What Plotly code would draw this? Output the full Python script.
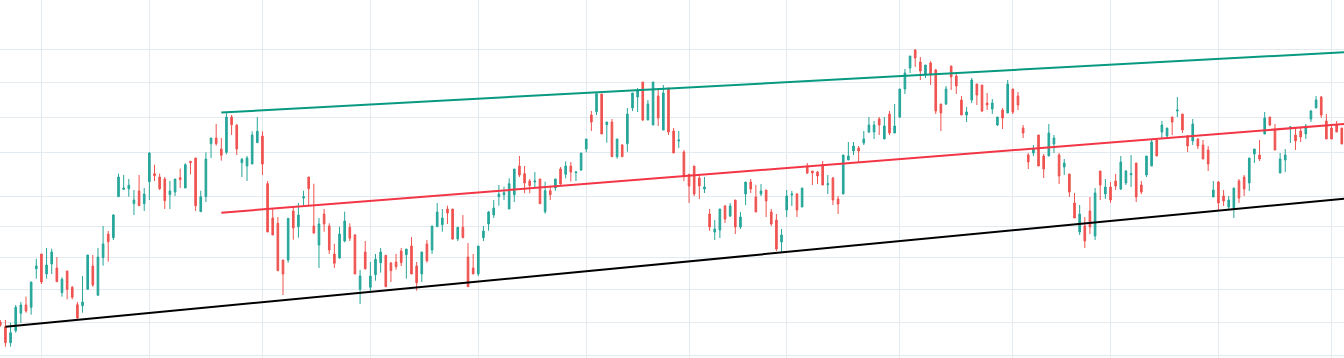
import plotly.graph_objects as go

opens = [36, 31.3, 15.3, 27.3, 44.7, 53, 50.7, 89.3, 104, 84, 94, 90, 65.3, 87, 70.7, 53.3, 52.3, 68.7, 92, 62.7,
         100.3, 124, 120.3, 161.3, 168.7, 169.3, 154.3, 167, 154.3, 176.3, 184.3, 181, 179, 163.3, 166, 180.3, 170, 196.7, 200, 146.3,
         161.3, 214.3, 220, 209, 205.7, 241, 232.7, 195.3, 192, 194, 215.3, 222, 174.3, 140, 134.7, 98, 98, 147, 131.3, 160,
         181, 132, 113, 144, 132, 104, 100, 117, 130.7, 123, 68.7, 106, 70.7, 83.3, 95.3, 102.7, 95, 96, 107, 103.3,
         112, 92, 84, 114, 108, 131.3, 133.3, 149, 149, 119, 130.7, 101, 90, 84, 120.3, 134, 143, 161.3, 163.3, 149,
         163.3, 192, 184.3, 177, 176, 179, 146.3, 167.3, 170, 189, 183.7, 192, 185.3, 188, 209, 243, 246.3, 264, 233.3, 236,
         201.3, 213, 214.3, 250, 261, 276, 238, 233, 262, 228, 270, 227, 217, 206, 183.7, 192, 180, 169, 144, 126,
         128, 152, 142, 158, 131, 164, 176, 161, 164, 168, 146, 138, 116, 148, 163, 164, 151, 192, 187, 186,
         193, 173.3, 180, 159, 164, 198, 207, 210, 215, 226, 226, 239, 219, 244, 225, 241, 269, 290, 308, 296,
         283, 295, 288, 254, 254, 292, 282, 258, 243, 258, 274, 273, 255, 249, 233, 248, 245, 269, 262, 230,
         203, 205, 223, 202, 202, 214, 203, 191, 184, 155, 126, 132, 147, 122, 187, 164, 171, 177, 169, 175,
         183.3, 195, 173, 183, 192, 218, 226, 222, 241, 247, 244, 221, 217, 219, 213, 208, 161, 176, 162, 151,
         149, 177, 181, 175, 204, 203, 224, 241, 228, 185, 198, 230, 223, 227, 224, 239, 250, 261, 237, 230,
         233, 230]
highs = [38, 38, 35.3, 53, 56, 61.3, 76, 99.3, 104, 110, 109.3, 101, 80.7, 87, 72, 56, 82, 103, 103, 110,
         132, 127, 144, 184.3, 183, 179, 168, 183, 170, 205.7, 193.3, 184.3, 181, 177, 179, 189.3, 194.7, 196.7, 200, 167.3,
         205.7, 220, 234, 220, 246.3, 243, 234, 200, 202, 226.7, 241, 226.7, 177, 149, 141, 98, 139.7, 151, 155, 167.3,
         181, 174.3, 140, 149, 134.7, 114.3, 131.3, 146.3, 134.7, 124, 88, 117, 96, 104, 110, 102.7, 96, 104, 110, 109,
         121, 96, 106, 118, 132, 155, 149, 152.3, 149, 130.7, 143, 115, 104, 112, 132, 147, 158, 173, 171.3, 179.7,
         189, 202, 192, 179, 186, 179, 176.3, 172.3, 179, 191, 196.7, 196, 186.7, 205, 219, 247, 264.3, 264, 236, 239,
         219, 214, 250, 265, 270, 276, 258, 276, 269, 273, 270, 230, 227, 208, 183.7, 192, 184, 181, 149, 138,
         149, 153, 155, 158, 146, 176, 179, 173, 174, 168, 149, 144, 129, 168, 167, 165, 170, 195, 187, 187,
         197, 183, 181, 162, 203, 216, 216, 212, 227, 241, 237, 241, 241, 247, 254, 269, 289, 302, 309, 301,
         293, 297, 289, 254, 272, 292, 286, 262, 251, 280, 274, 273, 265, 259, 241, 250, 278, 269, 266, 233,
         205, 213, 223, 204, 234, 223, 205, 199, 184, 165, 153, 141, 161, 170, 187, 179, 176, 184, 202, 188,
         203, 195, 177, 202, 218, 218, 237, 230, 241, 261, 244, 223, 239, 220, 218, 212, 177, 177, 168, 162,
         170, 179, 183, 200, 209, 218, 246, 241, 234, 205, 209, 232, 231, 230, 234, 248, 262, 262, 244, 232,
         237, 230]
lows = [31.3, 11.3, 11.3, 25.3, 35.3, 45.3, 43.3, 79.3, 74, 79.3, 84, 76.3, 61.3, 58.7, 58.7, 38, 45.3, 68.7, 71.3, 62.7,
        92.3, 96.3, 118, 161.3, 168, 161.3, 143, 152.3, 147, 158, 177, 168, 149, 149, 162, 170, 170, 183.7, 147, 146.3,
        156, 200, 212.3, 197.3, 203.7, 223, 203, 181, 177, 194, 215.3, 183, 126, 123, 87.3, 63, 95.3, 118.3, 120.3, 152.7,
        152.7, 124.3, 90, 126.3, 104, 90, 99.3, 115.7, 117, 84, 54, 88.3, 65.3, 77.3, 85.3, 71.3, 76, 88.3, 92, 79.3,
        84, 67.3, 76, 95.3, 104, 131.3, 126.3, 134, 118.3, 117, 120.3, 71.3, 84, 82, 117, 127.3, 140, 152.3, 158, 149,
        156, 181, 164.7, 164.7, 170.7, 154.3, 144.3, 158, 167.3, 173, 179.7, 176.3, 177, 187, 205.7, 227, 243, 224, 215.3, 201.3,
        199.3, 201.3, 206.3, 247, 246, 237, 238, 233, 232, 228, 223, 205, 210, 177, 155, 162, 159, 165, 127, 118,
        120, 135, 141, 124, 129, 153, 165, 146, 162, 141, 132, 107, 106, 141, 152, 141, 151, 184, 173, 174,
        173, 164, 153, 144, 164, 198, 203, 196, 213, 225, 219, 223, 219, 223, 225, 240, 264, 285, 291, 278,
        280, 273, 244, 227, 253, 268, 264, 243, 236, 255, 253, 246, 248, 244, 232, 229, 245, 244, 248, 220,
        189, 202, 192, 180, 202, 205, 174, 183, 161, 140, 123, 110, 124, 118, 158, 159, 155, 168, 168, 173,
        171, 156, 164, 181, 192, 202, 219, 220, 223, 241, 225, 206, 213, 209, 199, 187, 161, 147, 152, 148,
        140, 155, 162, 167, 195, 197, 224, 232, 208, 185, 186, 215, 208, 216, 219, 236, 250, 240, 219, 219,
        226, 214]
closes = [32.7, 15.3, 25.3, 50.7, 53, 47, 76, 92, 76, 93, 106, 76.3, 78.7, 68.7, 60.7, 40, 56, 103, 73, 101,
          114, 116.3, 143, 181, 170, 172.7, 158, 152.3, 164, 205, 182.3, 169.3, 157.3, 167, 179, 178.3, 193.3, 195.3, 152.3, 161.3,
          199, 220, 214.3, 202.7, 241, 233.3, 209, 198.7, 200, 223, 226.7, 194, 126, 123, 87.3, 84, 139.7, 130, 143, 161.3,
          169.3, 125, 134, 134, 108, 94.7, 124, 137, 119.7, 84, 82, 89.3, 82, 98.7, 106, 71.3, 87.3, 91.3, 95.3, 109,
          84, 75.3, 106, 97.3, 132, 146, 140, 145, 119, 130.7, 120.3, 71.3, 84, 112, 127, 146, 150, 164, 165.3, 174.3,
          189, 183, 175, 172.3, 177, 154.3, 167.3, 163.3, 179, 174, 192, 186, 186, 205, 219, 236, 264.3, 224, 236, 201.3,
          219, 201.3, 244, 265, 267, 238, 254, 276, 240, 265, 226, 205, 218, 181.7, 172, 164, 172, 171, 131, 129,
          149, 139, 152, 131, 141, 176, 169, 146, 167, 157, 134, 109, 123, 162, 164, 148, 170, 185, 185, 182,
          173, 174.3, 158, 154, 203, 202, 212, 207, 219, 233, 233, 233, 232, 225, 232, 269, 285, 302, 300, 287,
          293, 283, 247, 245, 269, 281, 272, 243, 246, 278, 263, 247, 253, 255, 241, 240, 274, 246, 253, 225,
          196, 209, 192, 189, 225, 220, 182, 195, 166, 140, 144, 117, 131, 165, 173, 171, 158, 172, 196, 187,
          184.3, 161, 166, 202, 216, 202, 233, 230, 236, 248, 228, 212, 234, 212, 199, 194, 168, 155, 157, 158,
          170, 160, 169, 200, 209, 199, 240, 233, 208, 199, 203, 231, 217, 221, 232, 247, 258, 243, 219, 219,
          226, 214]

# first trading session of each month (candle index) -> vertical grid lines
month_start_idx = [8, 29, 51, 72, 93, 114, 134, 153, 175, 197, 216, 237, 259]
# horizontal price grid levels
price_grid = [2.3, 35.7, 68.7, 100.7, 131.3, 161.3, 205.7, 240.7, 275.7, 308.7]

# trend lines: [start_idx, end_idx], [start_price, end_price]
upper_x = [43, 262]
upper_y = [245.5, 305.9]
mid_x = [43, 262]
mid_y = [145.3, 234.2]
lower_x = [1, 262]
lower_y = [31.3, 159.6]

x = list(range(len(opens)))

fig = go.Figure()
fig.add_trace(go.Candlestick(
    x=x, open=opens, high=highs, low=lows, close=closes,
    increasing=dict(line=dict(color="#26a69a", width=1), fillcolor="#26a69a"),
    decreasing=dict(line=dict(color="#ef5350", width=1), fillcolor="#ef5350"),
    hoverinfo="skip", showlegend=False,
))
fig.add_trace(go.Scatter(x=lower_x, y=lower_y, mode="lines",
                         line=dict(color="#000000", width=2), showlegend=False, hoverinfo="skip"))
fig.add_trace(go.Scatter(x=mid_x, y=mid_y, mode="lines",
                         line=dict(color="#f23645", width=2), showlegend=False, hoverinfo="skip"))
fig.add_trace(go.Scatter(x=upper_x, y=upper_y, mode="lines",
                         line=dict(color="#089981", width=2), showlegend=False, hoverinfo="skip"))

fig.update_layout(
    width=1344, height=358,
    margin=dict(l=0, r=0, t=0, b=0),
    paper_bgcolor="#ffffff", plot_bgcolor="#ffffff",
    boxgap=0.55,
    showlegend=False,
    xaxis=dict(range=[-0.06, 261.43], rangeslider=dict(visible=False),
               tickmode="array", tickvals=month_start_idx, showticklabels=False,
               showgrid=True, gridcolor="#e3eaf0", gridwidth=1, zeroline=False, showline=False),
    yaxis=dict(range=[0, 358], tickmode="array", tickvals=price_grid, showticklabels=False,
               showgrid=True, gridcolor="#e3eaf0", gridwidth=1, zeroline=False, showline=False),
)

fig.write_html("out.html", config={"displayModeBar": False},
               post_script="document.body.style.margin='0';document.body.style.overflow='hidden';")
